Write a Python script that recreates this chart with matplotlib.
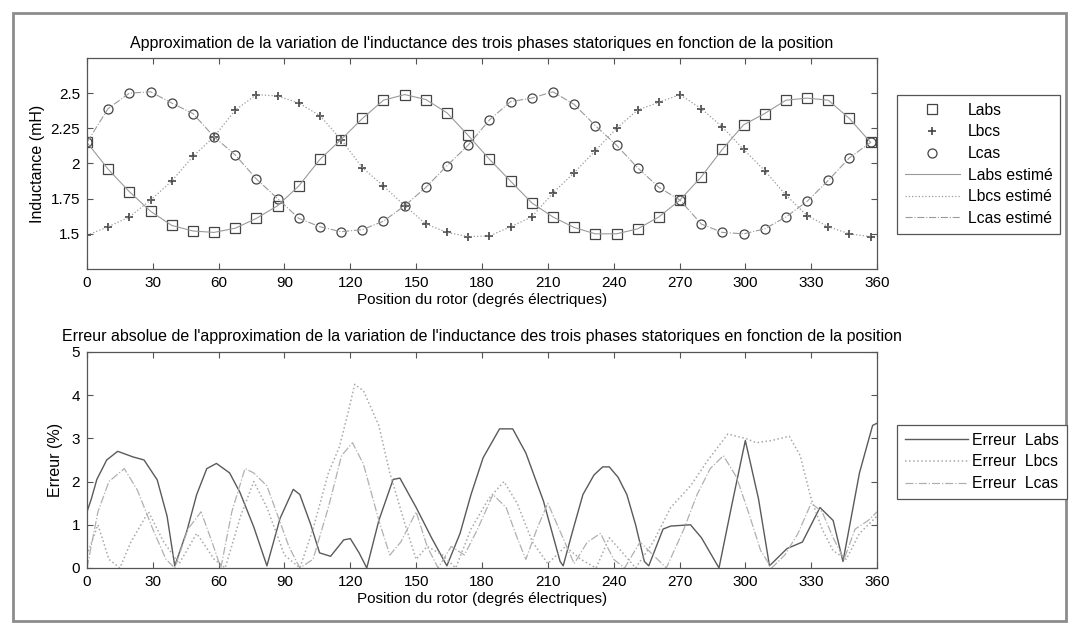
import matplotlib.pyplot as plt
import numpy as np
from matplotlib.lines import Line2D
from matplotlib.patches import Rectangle

plt.rcParams['font.family'] = ['Liberation Sans', 'DejaVu Sans']

# measured inductances (mH), one sample every ~9.65 electrical degrees
pos = [0.0, 9.6, 19.3, 29.0, 38.6, 48.3, 57.9, 67.6, 77.2, 86.9,
       96.5, 106.2, 115.8, 125.5, 135.1, 144.8, 154.4, 164.1, 173.7, 183.4,
       193.0, 202.7, 212.3, 222.0, 231.6, 241.3, 250.9, 260.6, 270.2, 279.9,
       289.5, 299.2, 308.8, 318.5, 328.1, 337.8, 347.4, 357.1]
labs = [2.15, 1.96, 1.80, 1.66, 1.56, 1.52, 1.51, 1.54, 1.61, 1.70,
        1.84, 2.03, 2.17, 2.32, 2.45, 2.49, 2.455, 2.36, 2.20, 2.03,
        1.875, 1.72, 1.62, 1.545, 1.50, 1.50, 1.535, 1.62, 1.74, 1.905,
        2.10, 2.275, 2.355, 2.45, 2.465, 2.45, 2.32, 2.15]
lbcs = [1.49, 1.55, 1.62, 1.74, 1.875, 2.05, 2.19, 2.38, 2.49, 2.48,
        2.43, 2.34, 2.17, 1.97, 1.84, 1.70, 1.57, 1.51, 1.48, 1.485,
        1.55, 1.62, 1.79, 1.935, 2.09, 2.25, 2.38, 2.435, 2.49, 2.39,
        2.26, 2.10, 1.95, 1.775, 1.63, 1.55, 1.50, 1.48]
lcas = [2.15, 2.39, 2.50, 2.51, 2.43, 2.355, 2.19, 2.06, 1.89, 1.75,
        1.61, 1.55, 1.515, 1.53, 1.59, 1.70, 1.83, 1.985, 2.13, 2.31,
        2.44, 2.465, 2.51, 2.42, 2.27, 2.13, 1.97, 1.83, 1.74, 1.57,
        1.51, 1.50, 1.535, 1.62, 1.73, 1.88, 2.04, 2.15]

# absolute error (%) of the approximation
err_a_pos = [0, 2, 4.5, 9, 14, 21, 26, 32, 36.5, 40, 45.5, 50, 54.6, 59, 65, 69.7, 76, 82,
             88, 94, 97, 102, 106, 111, 117, 120, 124, 127.5, 133, 139.5, 142.6, 150, 157,
             164, 170, 175, 180.5, 188, 194, 200, 208, 215.6, 217, 221, 226, 231, 235, 238,
             242, 246, 250, 254, 256, 262.5, 266, 275, 280, 288, 294, 300, 306, 311, 319,
             326, 334, 340, 344.5, 352, 358, 360]
err_a = [1.3, 1.6, 2.05, 2.5, 2.7, 2.57, 2.5, 2.04, 1.2, 0.05, 0.85, 1.7, 2.3, 2.42, 2.2,
         1.75, 0.95, 0.05, 1.15, 1.82, 1.7, 1.0, 0.35, 0.27, 0.65, 0.68, 0.35, 0.0, 1.1,
         2.05, 2.08, 1.4, 0.7, 0.05, 0.8, 1.7, 2.55, 3.22, 3.22, 2.66, 1.55, 0.15, 0.05,
         0.8, 1.7, 2.15, 2.34, 2.34, 2.1, 1.7, 1.0, 0.15, 0.05, 0.9, 0.97, 1.0, 0.7, 0.0,
         1.5, 2.95, 1.6, 0.05, 0.45, 0.6, 1.4, 1.1, 0.15, 2.2, 3.3, 3.35]

err_b_pos = [0, 5, 10, 15, 20, 28, 35, 42, 50, 58, 63, 70, 76, 82, 90, 97, 103, 110, 115,
             119, 122, 126, 133, 138, 145, 150, 155, 162, 168, 175, 183, 190, 196, 203, 210,
             218, 225, 232, 238, 245, 250, 258, 266, 275, 283, 292, 300, 305, 312, 320, 325,
             330, 335, 340, 346, 352, 360]
err_b = [0.3, 1.0, 0.2, 0.0, 0.6, 1.3, 0.6, 0.1, 0.8, 0.2, 0.0, 1.2, 2.0, 1.4, 0.3, 0.0,
         0.9, 2.2, 2.8, 3.6, 4.25, 4.1, 3.3, 2.2, 1.0, 0.2, 0.5, 0.3, 0.0, 0.9, 1.6, 2.0,
         1.5, 0.6, 0.1, 0.5, 0.2, 0.0, 0.7, 0.3, 0.0, 0.6, 1.4, 1.9, 2.5, 3.1, 3.0, 2.9,
         2.95, 3.05, 2.6, 1.6, 0.9, 0.4, 0.2, 0.8, 1.2]

err_c_pos = [0, 5, 10, 17, 23, 30, 36, 40, 46, 52, 57, 61, 66, 72, 76, 82, 87, 92, 97, 103,
             110, 116, 121, 126, 133, 138, 143, 150, 155, 160, 166, 172, 178, 185, 191, 196,
             200, 205, 210, 216, 222, 228, 234, 240, 245, 252, 258, 264, 272, 278, 284, 290,
             296, 302, 307, 312, 318, 324, 330, 335, 340, 345, 350, 356, 360]
err_c = [0.0, 1.3, 2.0, 2.3, 1.8, 0.9, 0.2, 0.0, 0.9, 1.3, 0.6, 0.0, 1.3, 2.3, 2.2, 1.9,
         1.2, 0.5, 0.0, 0.2, 1.4, 2.6, 2.9, 2.4, 1.1, 0.3, 0.6, 1.3, 0.5, 0.0, 0.5, 0.3,
         0.9, 1.7, 1.4, 0.7, 0.2, 0.9, 1.5, 0.8, 0.1, 0.6, 0.8, 0.2, 0.0, 0.6, 0.3, 0.0,
         0.9, 1.7, 2.3, 2.6, 2.1, 1.2, 0.4, 0.0, 0.3, 0.8, 1.5, 1.3, 0.7, 0.2, 0.9, 1.1, 1.3]

xticks = list(range(0, 361, 30))
xlabel = 'Position du rotor (degrés électriques)'

fig = plt.figure(figsize=(10.79, 6.32), dpi=100)
fig.patches.append(Rectangle((0.012, 0.018), 0.976, 0.962, transform=fig.transFigure,
                             fill=False, edgecolor='#8c8c8c', linewidth=2.0))

mk = '#444444'
ln = '#9a9a9a'


def style(ax):
    ax.set_xlim(0, 360)
    ax.set_xticks(xticks)
    ax.tick_params(direction='in', top=True, right=True, labelsize=11,
                   color='#555555', length=4, pad=5)
    for s in ax.spines.values():
        s.set_color('#555555')
        s.set_linewidth(0.9)


# inductances
ax1 = fig.add_axes([0.0806, 0.5744, 0.7322, 0.3338])
ax1.plot(pos, labs, ls='none', marker='s', ms=6.5, mfc='none', mec=mk, mew=0.9)
ax1.plot(pos, lbcs, ls='none', marker='+', ms=6, mec=mk, mew=1.2)
ax1.plot(pos, lcas, ls='none', marker='o', ms=6.5, mfc='none', mec=mk, mew=0.9)
ax1.plot(pos, labs, ls='-', color=ln, lw=0.8)
ax1.plot(pos, lbcs, ls=':', color=ln, lw=0.9)
ax1.plot(pos, lcas, ls='-.', color=ln, lw=0.8)
style(ax1)
ax1.set_ylim(1.25, 2.75)
ax1.set_yticks([1.5, 1.75, 2, 2.25, 2.5])
ax1.set_yticklabels(['1.5', '1.75', '2', '2.25', '2.5'])
ax1.set_title("Approximation de la variation de l'inductance des trois phases statoriques "
              "en fonction de la position", fontsize=11.5, pad=7)
ax1.set_xlabel(xlabel, fontsize=11, labelpad=2)
ax1.set_ylabel('Inductance (mH)', fontsize=11.5, labelpad=4)

h1 = [Line2D([], [], ls='none', marker='s', ms=6.5, mfc='none', mec=mk, mew=0.9),
      Line2D([], [], ls='none', marker='+', ms=6, mec=mk, mew=1.2),
      Line2D([], [], ls='none', marker='o', ms=6.5, mfc='none', mec=mk, mew=0.9),
      Line2D([], [], ls='-', color=ln, lw=0.8),
      Line2D([], [], ls=':', color=ln, lw=0.9),
      Line2D([], [], ls='-.', color=ln, lw=0.8)]
lg1 = fig.legend(h1, ['Labs', 'Lbcs', 'Lcas', 'Labs estimé', 'Lbcs estimé', 'Lcas estimé'],
                 loc='upper left', bbox_to_anchor=(0.8313, 0.8497), fontsize=11.3,
                 fancybox=False, edgecolor='#555555', framealpha=1, handlelength=3.5,
                 borderpad=0.5, labelspacing=0.42, handletextpad=0.5, borderaxespad=0)
lg1.get_frame().set_linewidth(0.9)

# approximation errors
ax2 = fig.add_axes([0.0806, 0.1013, 0.7322, 0.3418])
ax2.plot(err_a_pos, err_a, ls='-', color='#5a5a5a', lw=1.0)
ax2.plot(err_b_pos, err_b, ls=':', color='#a8a8a8', lw=1.1)
ax2.plot(err_c_pos, err_c, ls='-.', color='#b0b0b0', lw=0.9)
style(ax2)
ax2.set_ylim(0, 5)
ax2.set_yticks(range(0, 6))
ax2.set_title("Erreur absolue de l'approximation de la variation de l'inductance des trois "
              "phases statoriques en fonction de la position", fontsize=11.5, pad=8)
ax2.set_xlabel(xlabel, fontsize=11, labelpad=2)
ax2.set_ylabel('Erreur (%)', fontsize=11.5, labelpad=6)

h2 = [Line2D([], [], ls='-', color='#5a5a5a', lw=1.0),
      Line2D([], [], ls=':', color='#a8a8a8', lw=1.1),
      Line2D([], [], ls='-.', color='#b0b0b0', lw=0.9)]
lg2 = fig.legend(h2, ['Erreur  Labs', 'Erreur  Lbcs', 'Erreur  Lcas'],
                 loc='upper left', bbox_to_anchor=(0.8313, 0.3275), fontsize=11.3,
                 fancybox=False, edgecolor='#555555', framealpha=1, handlelength=4.0,
                 borderpad=0.5, labelspacing=0.42, handletextpad=0.3, borderaxespad=0)
lg2.get_frame().set_linewidth(0.9)

fig.savefig('out.png', dpi=100)
